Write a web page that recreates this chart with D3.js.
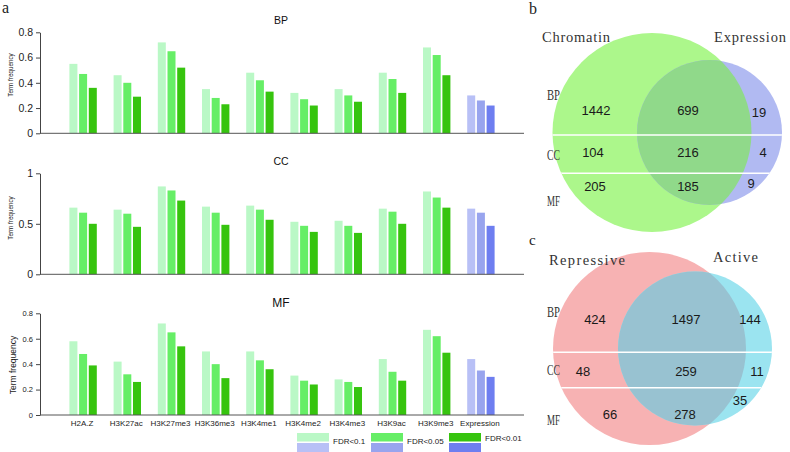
<!DOCTYPE html>
<html><head><meta charset="utf-8">
<script src="https://cdn.jsdelivr.net/npm/d3@7"></script>
<style>body{margin:0;background:#fff}svg{display:block}</style>
</head><body>
<svg id="c" width="790" height="452"></svg>
<script>
// ---------------- DATA ----------------
const categories = ["H2A.Z","H3K27ac","H3K27me3","H3K36me3","H3K4me1","H3K4me2","H3K4me3","H3K9ac","H3K9me3","Expression"];
const seriesNames = ["FDR<0.1","FDR<0.05","FDR<0.01"];
// each row: [FDR<0.1, FDR<0.05, FDR<0.01] per category
const bpValues = [[0.55,0.47,0.36],[0.46,0.40,0.29],[0.72,0.65,0.52],[0.35,0.28,0.23],[0.48,0.42,0.33],[0.32,0.27,0.22],[0.35,0.30,0.25],[0.48,0.43,0.32],[0.68,0.62,0.46],[0.30,0.26,0.22]];
const ccValues = [[0.66,0.61,0.50],[0.64,0.60,0.47],[0.87,0.83,0.73],[0.67,0.61,0.49],[0.68,0.64,0.54],[0.52,0.48,0.42],[0.53,0.48,0.41],[0.65,0.62,0.50],[0.82,0.76,0.66],[0.65,0.61,0.48]];
const mfValues = [[0.58,0.48,0.39],[0.42,0.32,0.26],[0.72,0.65,0.54],[0.50,0.40,0.29],[0.50,0.43,0.36],[0.31,0.27,0.24],[0.28,0.26,0.22],[0.44,0.34,0.27],[0.67,0.62,0.49],[0.44,0.35,0.30]];
const bpTicks = [0,0.2,0.4,0.6,0.8];
const ccTicks = [0,0.5,1];
const mfTicks = [0,0.2,0.4,0.6,0.8];
const greenColors = ["#baf8c6","#66ee66","#36c40e"];
const blueColors = ["#b8c0f6","#98a4ee","#6e7ef0"];
// Venn b: Chromatin vs Expression, rows BP/CC/MF: [only chromatin, both, only expression]
const vennBRows = ["BP","CC","MF"];
const vennBCounts = [[1442,699,19],[104,216,4],[205,185,9]];
// Venn c: Repressive vs Active
const vennCRows = ["BP","CC","MF"];
const vennCCounts = [[424,1497,144],[48,259,11],[66,278,35]];

// ---------------- DRAW ----------------
const svg = d3.select("#c");
const sans = "Liberation Sans, Arial, sans-serif";
const serif = "Liberation Serif, DejaVu Serif, serif";

const x = d3.scaleBand().domain(categories).range([61,503]).paddingInner(0).paddingOuter(0);
const xs = d3.scaleBand().domain([0,1,2]).range([0,27.4]).paddingInner(0.175);

const panels = [
  {name:"BP", vals:bpValues, ticks:bpTicks, max:0.8, y0:133.3, y1:32.3, tickFont:10.5, labFont:6.3, labY:75, titleY:24, titleFont:10.5},
  {name:"CC", vals:ccValues, ticks:ccTicks, max:1, y0:274.3, y1:173.3, tickFont:10.5, labFont:6.3, labY:218, titleY:165, titleFont:10.5},
  {name:"MF", vals:mfValues, ticks:mfTicks, max:0.8, y0:415, y1:313.3, tickFont:7.5, labFont:8.5, labY:365, titleY:307, titleFont:12}
];

panels.forEach((p,pi)=>{
  const y = d3.scaleLinear().domain([0,p.max]).range([p.y0,p.y1]);
  const g = svg.append("g");
  categories.forEach((cat,ci)=>{
    const cols = cat==="Expression" ? blueColors : greenColors;
    g.selectAll(null).data(p.vals[ci]).enter().append("rect")
      .attr("x",(d,i)=> x(cat)+x.bandwidth()/2-13.7+xs(i))
      .attr("width",xs.bandwidth())
      .attr("y",d=>y(d)).attr("height",d=>y(0)-y(d))
      .attr("fill",(d,i)=>cols[i]);
  });
  const ax = g.append("g").attr("transform","translate(40,0)")
    .call(d3.axisLeft(y).tickValues(p.ticks).tickSize(4).tickSizeOuter(0).tickFormat(d3.format("")));
  ax.select(".domain").attr("stroke","#444");
  ax.selectAll(".tick line").attr("stroke","#444");
  ax.selectAll("text").attr("font-family",sans).attr("font-size",p.tickFont).attr("fill","#222");
  g.append("line").attr("x1",40).attr("x2",524).attr("y1",y(0)).attr("y2",y(0)).attr("stroke","#555").attr("stroke-width",1);
  g.append("text").attr("transform",`translate(${pi===2?16:13},${p.labY}) rotate(-90)`)
    .attr("text-anchor","middle").attr("font-family",sans).attr("font-size",p.labFont).attr("fill","#222").text("Term frequency");
  g.append("text").attr("x",281).attr("y",p.titleY).attr("text-anchor","middle")
    .attr("font-family",sans).attr("font-size",p.titleFont).attr("fill","#111").text(p.name);
  if(pi===2){
    g.selectAll(null).data(categories).enter().append("text")
      .attr("x",d=>x(d)+x.bandwidth()/2-1).attr("y",426).attr("text-anchor","middle")
      .attr("font-family",sans).attr("font-size",8).attr("fill","#222").text(d=>d);
  }
});

// legend
const legX = [297,371,449];
seriesNames.forEach((s,i)=>{
  svg.append("rect").attr("x",legX[i]).attr("y",433).attr("width",32).attr("height",8.5).attr("fill",greenColors[i]);
  svg.append("rect").attr("x",legX[i]).attr("y",443).attr("width",32).attr("height",9).attr("fill",blueColors[i]);
  svg.append("text").attr("x",legX[i]+36).attr("y",i===2?441:443.5).attr("font-family",sans).attr("font-size",8).attr("fill","#222").text(s);
});

// panel letters
svg.append("text").attr("x",2).attr("y",13).attr("font-family",serif).attr("font-size",16).attr("fill","#222").text("a");
svg.append("text").attr("x",529).attr("y",14).attr("font-family",serif).attr("font-size",16).attr("fill","#222").text("b");
svg.append("text").attr("x",529).attr("y",245).attr("font-family",serif).attr("font-size",15).attr("fill","#222").text("c");

function venn(id, A, B, colA, colB, colAB, lineYs, titles, rowLabels, rowYs, counts, numPos){
  const g = svg.append("g");
  const defs = svg.append("defs");
  defs.append("clipPath").attr("id",id+"clipA").append("circle").attr("cx",A.cx).attr("cy",A.cy).attr("r",A.r);
  const uc = defs.append("clipPath").attr("id",id+"clipU");
  uc.append("circle").attr("cx",A.cx).attr("cy",A.cy).attr("r",A.r);
  uc.append("circle").attr("cx",B.cx).attr("cy",B.cy).attr("r",B.r);
  g.append("circle").attr("cx",A.cx).attr("cy",A.cy).attr("r",A.r).attr("fill",colA);
  g.append("circle").attr("cx",B.cx).attr("cy",B.cy).attr("r",B.r).attr("fill",colB);
  g.append("circle").attr("cx",B.cx).attr("cy",B.cy).attr("r",B.r).attr("fill",colAB).attr("clip-path",`url(#${id}clipA)`);
  const lg = g.append("g").attr("clip-path",`url(#${id}clipU)`);
  lineYs.forEach(yy=> lg.append("line").attr("x1",540).attr("x2",790).attr("y1",yy).attr("y2",yy).attr("stroke","#fff").attr("stroke-width",1.6));
  titles.forEach(t=> g.append("text").attr("x",t.x).attr("y",t.y).attr("font-family",serif).attr("font-size",14.5)
      .attr("textLength",t.w).attr("lengthAdjust","spacing").attr("fill","#333").text(t.t));
  rowLabels.forEach((r,i)=> g.append("text").attr("x",547).attr("y",rowYs[i]).attr("font-family",serif).attr("font-size",14)
      .attr("textLength",13).attr("lengthAdjust","spacingAndGlyphs").attr("fill","#333").text(r));
  counts.forEach((row,ri)=> row.forEach((v,ci)=>{
    const pp = numPos[ri][ci];
    g.append("text").attr("x",pp[0]).attr("y",pp[1]).attr("text-anchor","middle").attr("dominant-baseline","central")
      .attr("font-family",sans).attr("font-size",13).attr("fill","#1a1a1a").text(v);
  }));
}

venn("vb", {cx:652,cy:132.5,r:99.5}, {cx:709.5,cy:132.5,r:72.5}, "#acf78b", "#b1baf2", "#90d98a",
  [135,173.3],
  [{t:"Chromatin",x:542,y:42,w:68},{t:"Expression",x:714,y:42,w:72}],
  vennBRows, [100,160,206], vennBCounts,
  [[[596,110],[688,110],[759,112]],[[593,152],[688,152],[763,152]],[[595,186],[688,186],[751,183]]]);

venn("vc", {cx:649.5,cy:348.5,r:96.5}, {cx:695,cy:348.5,r:77}, "#f7b2b3", "#9be4f0", "#98c2d1",
  [352.3,387.7],
  [{t:"Repressive",x:549,y:265,w:76},{t:"Active",x:713,y:262,w:45}],
  vennCRows, [317,375,425], vennCCounts,
  [[[595,319],[686,319],[750,319]],[[583,371],[686,371],[757,371]],[[610,414],[685,414],[740,400]]]);
</script>
</body></html>
